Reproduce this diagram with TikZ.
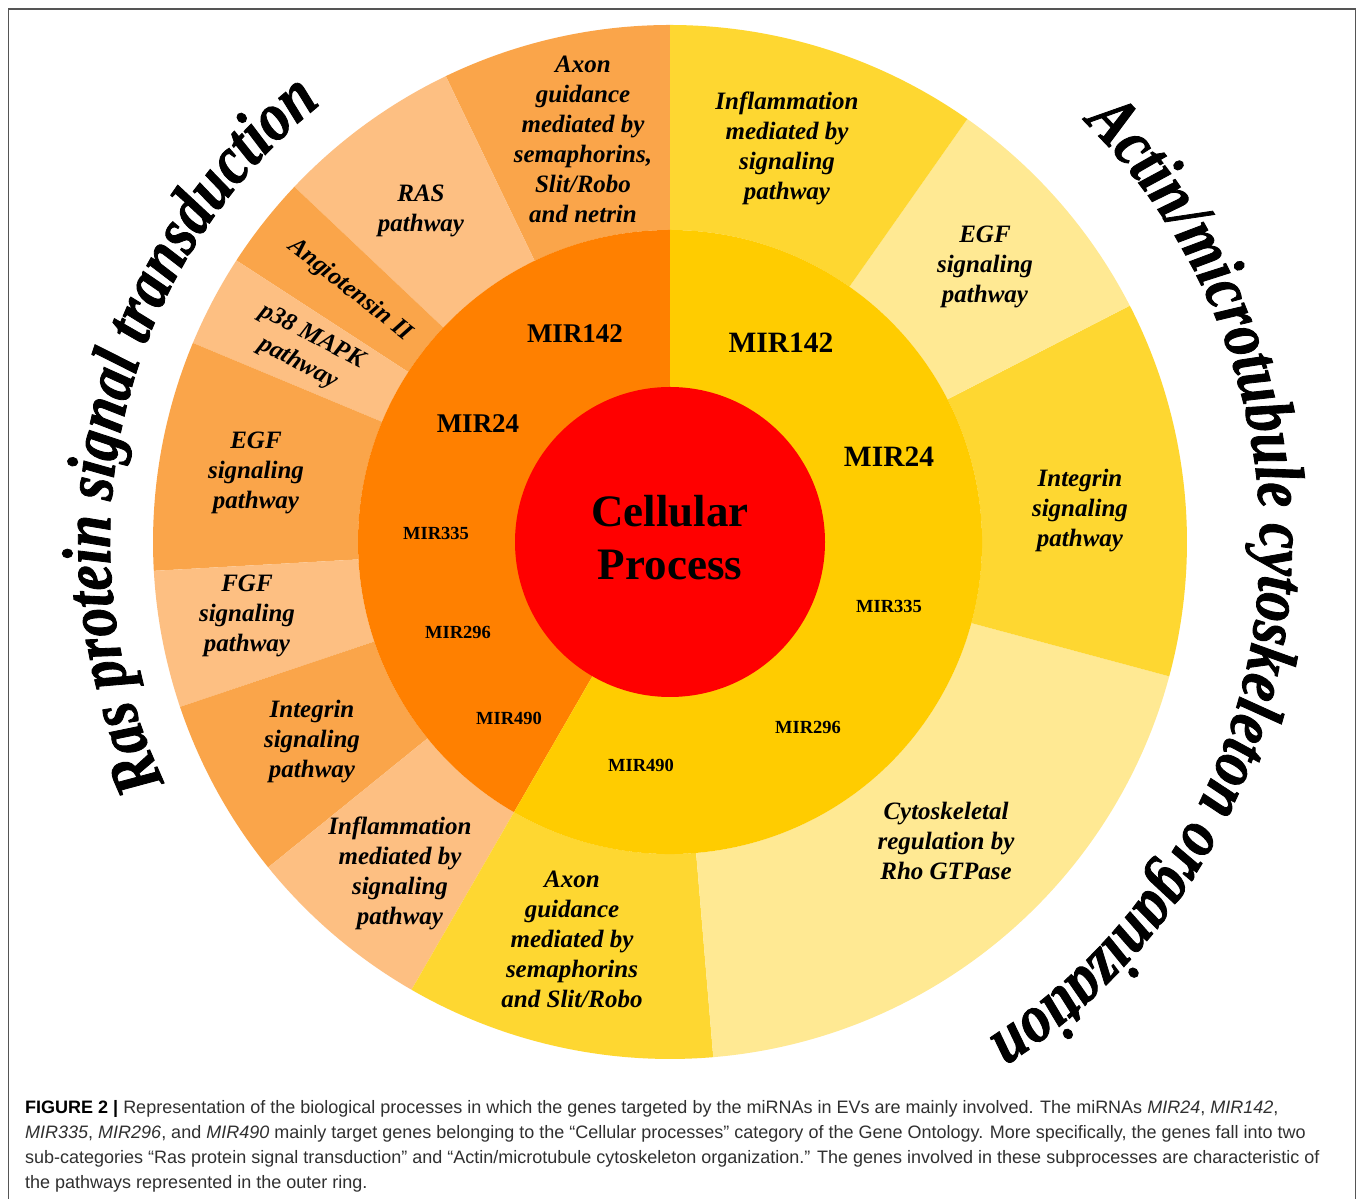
\documentclass[tikz,border=0pt]{standalone}
\usepackage{fontspec}
\setmainfont{Liberation Serif}
\newfontfamily\capfont{Liberation Sans}
\newfontfamily\arcfont[FakeStretch=0.84,FakeBold=1.2]{Liberation Serif}
\usetikzlibrary{decorations.text}

\definecolor{midorange}{HTML}{FF8000}
\definecolor{midyellow}{HTML}{FFCC00}
\definecolor{core}{HTML}{FF0000}
\definecolor{ordark}{HTML}{FAA54A}
\definecolor{orlight}{HTML}{FDBF82}
\definecolor{yedark}{HTML}{FED731}
\definecolor{yelight}{HTML}{FFE993}
\definecolor{capgray}{HTML}{303030}
\definecolor{framegray}{HTML}{555555}

% one band of the outer ring, between two angles
\newcommand\band[3]{\fill[#1] (#2:312) arc[start angle=#2,end angle=#3,radius=312]
  -- (#3:517) arc[start angle=#3,end angle=#2,radius=517] -- cycle;}
\newcommand\arcstyle{\arcfont\bfseries\itshape\fontsize{69}{69}\selectfont}

\begin{document}
\begin{tikzpicture}[x=1pt,y=1pt,
  outer label/.style={font=\fontsize{25}{30}\selectfont\bfseries\itshape, align=center, inner sep=0pt},
  mir big/.style={font=\fontsize{27}{30}\selectfont\bfseries, inner sep=0pt},
  mir huge/.style={font=\fontsize{29.5}{32}\selectfont\bfseries, inner sep=0pt},
  mir small/.style={font=\fontsize{18.5}{20}\selectfont\bfseries, inner sep=0pt},
  caption line/.style={font=\capfont\fontsize{18}{25}\selectfont, anchor=base west, inner sep=0pt, text=capgray},
  frame/.style={draw=framegray, line width=1.5pt}]
\useasboundingbox (0,0) rectangle (1358,1199);
\fill[white] (0,0) rectangle (1358,1199);
\draw[frame] (8.5,-2) -- (8.5,1190) -- (1355.5,1190) -- (1355.5,-2);

\coordinate (C) at (670,657);
\begin{scope}[shift={(C)}]
  % outer ring, Ras protein signal transduction side
  \band{ordark}{90}{115.7}
  \band{orlight}{115.7}{136.6}
  \band{ordark}{136.6}{147}
  \band{orlight}{147}{157.35}
  \band{ordark}{157.35}{183.2}
  \band{orlight}{183.2}{198.6}
  \band{ordark}{198.6}{219}
  \band{orlight}{219}{240}
  % outer ring, cytoskeleton side
  \band{yedark}{240}{274.8}
  \band{yelight}{274.8}{344.94}
  \band{yedark}{344.94}{387.2}
  \band{yelight}{27.2}{54.9}
  \band{yedark}{54.9}{90}
  % middle ring
  \fill[midorange] (0,0) -- (90:312) arc[start angle=90,end angle=240,radius=312] -- cycle;
  \fill[midyellow] (0,0) -- (240:312) arc[start angle=240,end angle=450,radius=312] -- cycle;
  % core
  \fill[core] (0,0) circle[radius=155];

  % curved category titles
  \path[decorate, decoration={text along path, text align=center,
        text={|\arcstyle|Ras protein signal transduction}}]
    (222:560) arc[start angle=222,end angle=112,radius=560];
  \path[decorate, decoration={text along path, text align=center,
        text={|\arcstyle|Actin/microtubule cytoskeleton organization}}]
    (66:590) arc[start angle=66,end angle=-78,radius=590];
\end{scope}

% core label
\node[font=\fontsize{45}{53}\selectfont\bfseries, align=center, inner sep=0pt] (cellular) at (670,661) {Cellular\\Process};

% middle ring labels
\node[mir big] (o142) at (575,865) {MIR142};
\node[mir big] (o24) at (478,775) {MIR24};
\node[mir small] (o335) at (436,666) {MIR335};
\node[mir small] (o296) at (458,567) {MIR296};
\node[mir small] (o490) at (509,481) {MIR490};
\node[mir huge] (y142) at (781,856) {MIR142};
\node[mir huge] (y24) at (889,742) {MIR24};
\node[mir small] (y335) at (889,593) {MIR335};
\node[mir small] (y296) at (808,472) {MIR296};
\node[mir small] (y490) at (641,434) {MIR490};

% outer ring labels
\node[outer label] (axonO) at (583,1060) {Axon\\guidance\\mediated by\\semaphorins,\\Slit/Robo\\and netrin};
\node[outer label] (ras) at (421,988) {RAS\\pathway};
\node[outer label, rotate=-38.2] (angio) at (350,909) {Angiotensin II};
\node[outer label, rotate=-27.7] (p38) at (305,849) {p38 MAPK\\pathway};
\node[outer label] (egfO) at (256,726) {EGF\\signaling\\pathway};
\node[outer label] (fgf) at (247,583) {FGF\\signaling\\pathway};
\node[outer label] (intO) at (312,457) {Integrin\\signaling\\pathway};
\node[outer label] (inflO) at (400,326) {Inflammation\\mediated by\\signaling\\pathway};
\node[outer label] (inflY) at (787,1051) {Inflammation\\mediated by\\signaling\\pathway};
\node[outer label] (egfY) at (985,932) {EGF\\signaling\\pathway};
\node[outer label] (intY) at (1080,688) {Integrin\\signaling\\pathway};
\node[outer label] (cyto) at (946,358) {Cytoskeletal\\regulation by\\Rho GTPase};
\node[outer label] (axonY) at (572,260) {Axon\\guidance\\mediated by\\semaphorins\\and Slit/Robo};

% caption
\node[caption line] (cap1) at (25,85) {\textcolor{black}{\textbf{FIGURE 2 |}} Representation of the biological processes in which the genes targeted by the miRNAs in EVs are mainly involved. The miRNAs \textit{MIR24}, \textit{MIR142},};
\node[caption line] (cap2) at (25,60) {\textit{MIR335}, \textit{MIR296}, and \textit{MIR490} mainly target genes belonging to the “Cellular processes” category of the Gene Ontology. More specifically, the genes fall into two};
\node[caption line] (cap3) at (25,35) {sub-categories “Ras protein signal transduction” and “Actin/microtubule cytoskeleton organization.” The genes involved in these subprocesses are characteristic of};
\node[caption line] (cap4) at (25,10) {the pathways represented in the outer ring.};
\end{tikzpicture}
\end{document}
